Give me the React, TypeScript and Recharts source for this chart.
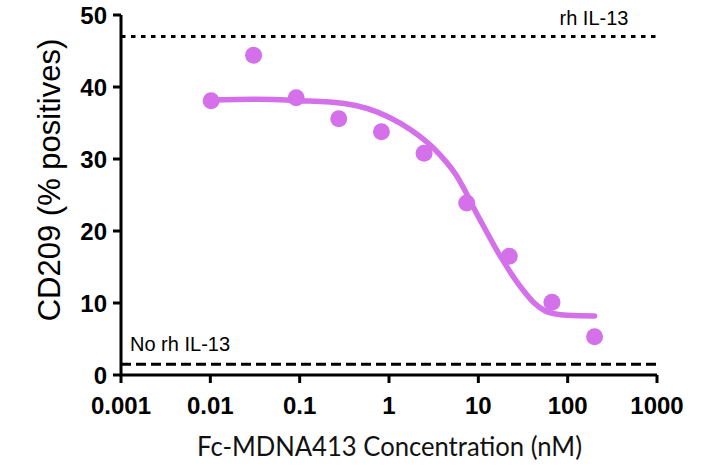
import { ComposedChart, Line, Scatter, XAxis, YAxis, ReferenceLine } from "recharts";

// measured points (3-fold dilution series, nM)
const pointConc = [0.0102, 0.0305, 0.0914, 0.274, 0.823, 2.47, 7.41, 22.2, 66.7, 200];
const pointCD209 = [38.1, 44.4, 38.5, 35.6, 33.8, 30.8, 23.9, 16.5, 10.1, 5.3];

// fitted curve
const curveConc = [0.01, 0.0316, 0.1, 0.316, 1, 1.78, 3.16, 5.62, 10, 17.8, 31.6, 42.2, 56.2, 75, 100, 200];
const curveCD209 = [38.2, 38.3, 38.1, 37.7, 35.8, 34.0, 31.5, 27.8, 22.0, 16.4, 11.8, 10.0, 8.9, 8.45, 8.3, 8.2];

const xTicks = [0.001, 0.01, 0.1, 1, 10, 100, 1000];
const yTicks = [0, 10, 20, 30, 40, 50];

const withIL13 = 47;
const withoutIL13 = 1.5;

const points = pointConc.map((c, i) => ({ conc: c, value: pointCD209[i] }));
const curve = curveConc.map((c, i) => ({ conc: c, fit: curveCD209[i] }));

const PINK = "#d470ea";
const ARIAL = "'Liberation Sans', Arial, sans-serif";
const tickStyle = { fontSize: 24, fontWeight: 700, fill: "#000", fontFamily: ARIAL };

const Dot = (props: any) => <circle cx={props.cx} cy={props.cy} r={8.5} fill={PINK} />;

const TopLabel = (props: any) => {
  const vb = props.viewBox || {};
  return (
    <text x={vb.x + vb.width - 63} y={vb.y - 12} textAnchor="middle" fill="#000" style={{ fontSize: 20, fontFamily: ARIAL }}>
      rh IL-13
    </text>
  );
};

const BottomLabel = (props: any) => {
  const vb = props.viewBox || {};
  return (
    <text x={vb.x + 9} y={vb.y - 13} fill="#000" style={{ fontSize: 20, fontFamily: ARIAL }}>
      No rh IL-13
    </text>
  );
};

const YTitle = (props: any) => {
  const vb = props.viewBox || {};
  const cy = vb.y + vb.height / 2 - 15;
  return (
    <text x={60} y={cy} transform={`rotate(-90, 60, ${cy})`} textAnchor="middle" fill="#000" style={{ fontSize: 31, fontFamily: ARIAL }}>
      CD209 (% positives)
    </text>
  );
};

const XTitle = (props: any) => {
  const vb = props.viewBox || {};
  const cx = vb.x + vb.width / 2;
  return (
    <text x={cx - 192} y={456} textLength={385} lengthAdjust="spacingAndGlyphs" fill="#111" style={{ fontSize: 27, fontFamily: "Lato, 'Open Sans', sans-serif" }}>
      Fc-MDNA413 Concentration (nM)
    </text>
  );
};

export default function App() {
  return (
    <div style={{ position: "absolute", left: 0, top: 0, background: "#fff" }}>
      <ComposedChart width={707} height={469} margin={{ top: 15, right: 50, bottom: 0, left: 0 }}>
        <XAxis
          dataKey="conc"
          type="number"
          scale="log"
          domain={[0.001, 1000]}
          ticks={xTicks}
          allowDataOverflow
          height={94}
          stroke="#000"
          strokeWidth={3}
          tickSize={8}
          tickMargin={14}
          tick={tickStyle}
          tickFormatter={(v: number) => String(v)}
          label={<XTitle />}
        />
        <YAxis
          type="number"
          domain={[0, 50]}
          ticks={yTicks}
          width={121}
          stroke="#000"
          strokeWidth={3}
          tickSize={8}
          tickMargin={6}
          tick={tickStyle}
          label={<YTitle />}
        />
        <ReferenceLine y={withIL13} stroke="#000" strokeWidth={3} strokeDasharray="4.5 5.5" label={<TopLabel />} />
        <ReferenceLine y={withoutIL13} stroke="#000" strokeWidth={3} strokeDasharray="10 5" label={<BottomLabel />} />
        <Scatter data={points} dataKey="value" shape={<Dot />} isAnimationActive={false} />
        <Line
          data={curve}
          dataKey="fit"
          type="monotone"
          stroke={PINK}
          strokeWidth={5.5}
          strokeLinecap="round"
          dot={false}
          activeDot={false}
          isAnimationActive={false}
        />
      </ComposedChart>
    </div>
  );
}
